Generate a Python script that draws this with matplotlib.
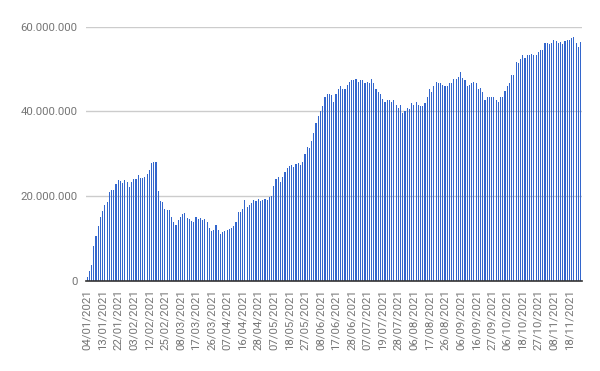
import matplotlib
matplotlib.use("Agg")
import matplotlib.pyplot as plt
from matplotlib.ticker import FuncFormatter

# daily values in millions
values = [
    0.94, 2.35, 3.76, 8.2, 10.6, 12.9, 15.1, 16.5, 17.9, 18.6,
    20.9, 21.4, 21.4, 22.8, 23.8, 23.5, 23.0, 23.8, 23.3, 22.1,
    23.3, 24.0, 24.0, 24.9, 24.2, 24.2, 24.5, 25.2, 26.1, 27.8,
    28.0, 28.0, 21.2, 18.8, 18.6, 16.9, 16.7, 16.7, 15.1, 13.9,
    13.2, 14.3, 15.1, 15.8, 16.0, 14.8, 14.6, 14.1, 13.9, 15.1,
    14.6, 14.8, 14.3, 14.6, 13.9, 12.5, 11.8, 12.0, 13.2, 12.0,
    11.1, 11.5, 11.8, 12.0, 12.2, 12.5, 12.9, 13.9, 16.2, 16.2,
    16.9, 19.1, 17.4, 17.9, 18.3, 19.1, 18.8, 19.3, 18.8, 19.1,
    19.3, 19.1, 19.8, 20.0, 22.3, 24.0, 24.5, 23.3, 24.5, 25.6,
    26.6, 27.0, 27.3, 26.8, 27.5, 27.8, 27.3, 28.0, 29.9, 31.5,
    31.3, 32.9, 35.0, 37.2, 39.0, 40.2, 41.2, 43.3, 44.0, 44.2,
    43.8, 42.3, 44.2, 45.2, 46.1, 45.4, 45.2, 46.3, 47.0, 47.3,
    47.3, 47.7, 47.0, 47.3, 47.5, 46.8, 47.0, 46.6, 47.7, 46.6,
    45.4, 44.5, 44.0, 43.0, 42.3, 42.8, 42.8, 42.1, 42.6, 41.6,
    40.7, 41.6, 39.5, 40.2, 40.7, 40.5, 41.9, 41.6, 42.1, 41.6,
    41.2, 41.2, 41.9, 43.3, 45.2, 44.5, 46.1, 47.0, 46.8, 46.8,
    46.3, 45.9, 46.1, 46.8, 46.8, 47.7, 47.7, 48.2, 49.2, 48.0,
    47.5, 45.9, 46.3, 46.8, 47.0, 46.8, 45.2, 45.6, 44.5, 42.8,
    43.3, 43.5, 43.5, 43.3, 42.8, 42.1, 43.3, 43.5, 44.9, 46.1,
    46.8, 48.7, 48.7, 51.7, 51.5, 52.4, 53.2, 52.7, 53.4, 53.4,
    53.6, 53.2, 53.2, 54.1, 54.6, 54.4, 56.2, 56.2, 56.0, 56.2,
    56.9, 56.7, 56.2, 56.5, 56.0, 56.7, 56.9, 56.9, 57.4, 57.6,
    56.2, 55.3, 56.5,
]

# date labels shown on the axis (every 7th bar)
tick_labels = [
    "04/01/2021", "13/01/2021", "22/01/2021", "03/02/2021", "12/02/2021",
    "25/02/2021", "08/03/2021", "17/03/2021", "26/03/2021", "07/04/2021",
    "16/04/2021", "28/04/2021", "07/05/2021", "18/05/2021", "27/05/2021",
    "08/06/2021", "17/06/2021", "28/06/2021", "07/07/2021", "19/07/2021",
    "28/07/2021", "06/08/2021", "17/08/2021", "26/08/2021", "06/09/2021",
    "16/09/2021", "27/09/2021", "06/10/2021", "18/10/2021", "27/10/2021",
    "08/11/2021", "18/11/2021",
]
label_step = 7

plt.rcParams['font.family'] = ['Roboto', 'DejaVu Sans']

fig = plt.figure(figsize=(6, 3.71), dpi=100)
ax = fig.add_axes([0.1433, 0.2434, 0.8262, 0.6846])

x = list(range(len(values)))
ax.bar(x, [v * 1e6 for v in values], width=0.52, color='#3366cc', zorder=2)

ax.set_xlim(-0.5, len(values) - 0.5)
ax.set_ylim(0, 60e6)
ax.set_yticks([0, 20e6, 40e6, 60e6])
ax.yaxis.set_major_formatter(FuncFormatter(lambda v, p: f"{int(v):,}".replace(",", ".")))
ax.grid(axis='y', color='#cccccc', linewidth=1, zorder=0)

ax.set_xticks(list(range(0, len(values), label_step)))
ax.set_xticklabels(tick_labels, rotation=90)

for s in ['top', 'right', 'left']:
    ax.spines[s].set_visible(False)
ax.spines['bottom'].set_color('#333333')
ax.spines['bottom'].set_linewidth(1.2)
ax.spines['bottom'].set_zorder(3)

ax.tick_params(axis='y', length=0, pad=6, labelsize=8.2, labelcolor='#757575')
ax.tick_params(axis='x', length=0, pad=6, labelsize=8.2, labelcolor='#757575')

fig.savefig('out.png', dpi=100)
